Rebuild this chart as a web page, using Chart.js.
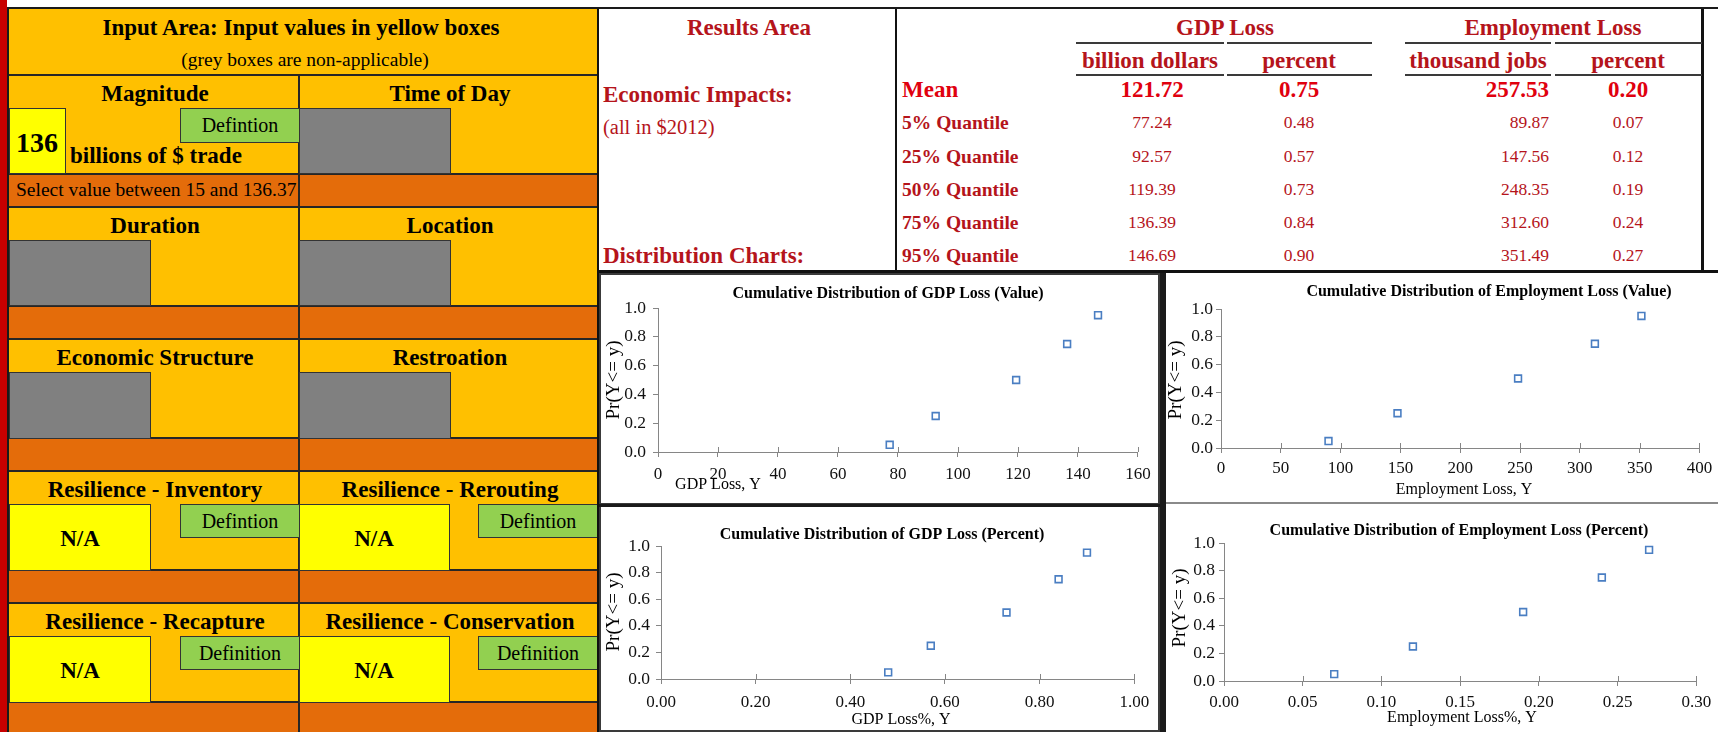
<!DOCTYPE html>
<html>
<head>
<meta charset="utf-8">
<script src="https://cdn.jsdelivr.net/npm/chart.js@4.4.1/dist/chart.umd.min.js"></script>
<style>
  html, body { margin: 0; padding: 0; background: #fff; }
  body { width: 1718px; height: 732px; overflow: hidden; position: relative;
         font-family: "Liberation Serif", "Times New Roman", serif; }
  #sheet { position: absolute; left: 0; top: 0; width: 1718px; height: 732px; }
  .a { position: absolute; box-sizing: border-box; }
  .t { position: absolute; white-space: nowrap; line-height: 1; }
  canvas { position: absolute; }
</style>
</head>
<body>
<div id="sheet"></div>
<canvas id="cdfGdpValue"></canvas>
<canvas id="cdfJobValue"></canvas>
<canvas id="cdfGdpPercent"></canvas>
<canvas id="cdfJobPercent"></canvas>
<script>
// ---- model output: quantiles of the loss distributions ----
const quantileLabels   = ['5% Quantile', '25% Quantile', '50% Quantile', '75% Quantile', '95% Quantile'];
const quantileProbs    = [0.05, 0.25, 0.50, 0.75, 0.95];
const gdpLossBillion   = [77.24, 92.57, 119.39, 136.39, 146.69];
const gdpLossPercent   = [0.48, 0.57, 0.73, 0.84, 0.90];
const jobLossThousand  = [89.87, 147.56, 248.35, 312.60, 351.49];
const jobLossPercent   = [0.07, 0.12, 0.19, 0.24, 0.27];
const meanValues       = [121.72, 0.75, 257.53, 0.20];

// ---- axis ticks ----
const probTicks        = [0, 0.2, 0.4, 0.6, 0.8, 1.0];
const gdpValueTicks    = [0, 20, 40, 60, 80, 100, 120, 140, 160];
const jobValueTicks    = [0, 50, 100, 150, 200, 250, 300, 350, 400];
const gdpPercentTicks  = [0, 0.2, 0.4, 0.6, 0.8, 1.0];
const jobPercentTicks  = [0, 0.05, 0.10, 0.15, 0.20, 0.25, 0.30];

// ---- input panel ----
const inputSections = [
  { top: 75,  left: 'Magnitude',              right: 'Time of Day' },
  { top: 207, left: 'Duration',               right: 'Location' },
  { top: 339, left: 'Economic Structure',     right: 'Restroation' },
  { top: 471, left: 'Resilience - Inventory', right: 'Resilience - Rerouting' },
  { top: 603, left: 'Resilience - Recapture', right: 'Resilience - Conservation' }
];

const ORANGE = '#FFC000', DARK_ORANGE = '#E46C0A', GREY = '#808080',
      YELLOW = '#FFFF00', GREEN = '#92D050', LINE = '#262626',
      DARK_RED = '#B5141B', RED = '#E0000E';

const sheet = document.getElementById('sheet');
function el(cls, css, text) {
  const d = document.createElement('div');
  d.className = cls;
  Object.assign(d.style, css);
  if (text != null) d.textContent = text;
  sheet.appendChild(d);
  return d;
}
function rect(x, y, w, h, bg, border) {
  return el('a', { left: x + 'px', top: y + 'px', width: w + 'px', height: h + 'px',
                   background: bg, border: border || 'none' });
}
function label(s, x, y, size, opt) {
  opt = opt || {};
  const tr = opt.align === 'l' ? 'translate(0,-50%)'
           : opt.align === 'r' ? 'translate(-100%,-50%)' : 'translate(-50%,-50%)';
  return el('t', { left: x + 'px', top: y + 'px', fontSize: size + 'px',
                   fontWeight: opt.bold ? 'bold' : 'normal', color: opt.color || '#000',
                   transform: tr }, s);
}
const BOX = '1px solid #333';

// frame and side strip
rect(0, 0, 7, 732, '#C80000');
rect(9, 9, 588, 723, ORANGE);

label('Input Area: Input values in yellow boxes', 301, 27, 23, { bold: true });
label('(grey boxes are non-applicable)', 305, 60, 19.5);
rect(9, 74, 588, 2, LINE);

inputSections.forEach(s => {
  rect(9, s.top + 99, 588, 33, DARK_ORANGE);
  rect(9, s.top + 98, 588, 2, LINE);
  rect(9, s.top + 131, 588, 2, LINE);
  label(s.left, 155, s.top + 18, 23, { bold: true });
  label(s.right, 450, s.top + 18, 23, { bold: true });
});
rect(298, 75, 2, 657, LINE);

// Magnitude
rect(9, 108, 57, 66, YELLOW, BOX);
label('136', 37, 143, 28, { bold: true });
label('billions of $ trade', 70, 155, 23, { bold: true, align: 'l' });
rect(180, 108, 120, 35, GREEN, BOX);
label('Defintion', 240, 125, 20);
rect(299, 108, 152, 66, GREY, BOX);
label('Select value between 15 and 136.37', 16, 190, 19.5, { align: 'l' });
// Duration / Location
rect(9, 240, 142, 66, GREY, BOX);
rect(299, 240, 152, 66, GREY, BOX);
// Economic Structure / Restoration
rect(9, 372, 142, 67, GREY, BOX);
rect(299, 372, 152, 67, GREY, BOX);
// Resilience rows
[[504, 'Defintion', 'Defintion'], [636, 'Definition', 'Definition']].forEach(([y, d1, d2]) => {
  rect(9, y, 142, 67, YELLOW, BOX);
  label('N/A', 80, y + 34, 23, { bold: true });
  rect(180, y, 120, 34, GREEN, BOX);
  label(d1, 240, y + 17, 20);
  rect(299, y, 151, 67, YELLOW, BOX);
  label('N/A', 374, y + 34, 23, { bold: true });
  rect(478, y, 120, 34, GREEN, BOX);
  label(d2, 538, y + 17, 20);
});

// ---- results table ----
rect(7, 7, 1711, 2, '#1a1a1a');
rect(7, 7, 2, 725, '#1a1a1a');
rect(597, 9, 2, 723, '#111');
rect(895, 9, 2, 263, '#111');
rect(1701, 9, 3, 263, '#111');
rect(597, 270, 1121, 3, '#111');
[[1076, 148], [1227, 145], [1405, 146], [1555, 147]].forEach(([x, w]) => {
  rect(x, 42, w, 2, '#3a3a3a');
  rect(x, 74, w, 2, '#3a3a3a');
});

label('Results Area', 749, 27, 23, { bold: true, color: DARK_RED });
label('GDP Loss', 1225, 27, 23, { bold: true, color: DARK_RED });
label('Employment Loss', 1553, 27, 23, { bold: true, color: DARK_RED });
label('billion dollars', 1150, 60, 23, { bold: true, color: DARK_RED });
label('percent', 1299, 60, 23, { bold: true, color: DARK_RED });
label('thousand jobs', 1478, 60, 23, { bold: true, color: DARK_RED });
label('percent', 1628, 60, 23, { bold: true, color: DARK_RED });
label('Economic Impacts:', 603, 94, 23, { bold: true, color: DARK_RED, align: 'l' });
label('(all in $2012)', 603, 127, 20.5, { color: DARK_RED, align: 'l' });
label('Distribution Charts:', 603, 255, 23, { bold: true, color: DARK_RED, align: 'l' });

// columns: GDP $ (centred), GDP % (centred), jobs (right aligned), jobs % (centred)
const colX = [[1152, 'c'], [1299, 'c'], [1549, 'r'], [1628, 'c']];
label('Mean', 902, 89, 23, { bold: true, color: RED, align: 'l' });
meanValues.forEach((v, j) => label(v.toFixed(2), colX[j][0], 89, 23, { bold: true, color: RED, align: colX[j][1] }));
const rowY = [123, 157, 190, 223, 256];
quantileLabels.forEach((q, i) => {
  label(q, 902, rowY[i], 19.5, { bold: true, color: DARK_RED, align: 'l' });
  [gdpLossBillion, gdpLossPercent, jobLossThousand, jobLossPercent].forEach((arr, j) =>
    label(arr[i].toFixed(2), colX[j][0], rowY[i], 17.5, { color: DARK_RED, align: colX[j][1] }));
});

// ---- chart frames ----
rect(599, 273, 561, 232, '#fff', '2px solid #3a3a3a');
rect(1160, 273, 6, 459, '#1a1a1a');
rect(1166, 273, 552, 231, '#fff');
rect(1166, 502, 552, 2, '#8a8a8a');
rect(599, 504, 561, 228, '#fff', '2px solid #3a3a3a');
rect(599, 504, 561, 3, '#1a1a1a');

// ---- cumulative distribution charts ----
const FONT = '"Liberation Serif", "Times New Roman", serif';
Chart.defaults.font.family = FONT;

const captionPlugin = {
  id: 'cdfCaptions',
  beforeDatasetsDraw(chart) {
    // tick marks on the x axis cross the axis line
    const xs = chart.scales.x, ctx = chart.ctx;
    ctx.save();
    ctx.strokeStyle = '#868686';
    ctx.lineWidth = 1;
    xs.ticks.forEach(t => {
      const px = Math.round(xs.getPixelForValue(t.value)) + 0.5;
      ctx.beginPath();
      ctx.moveTo(px, xs.top);
      ctx.lineTo(px, xs.top - 5);
      ctx.stroke();
    });
    ctx.restore();
  },
  afterDraw(chart, args, o) {
    const ctx = chart.ctx;
    ctx.save();
    ctx.fillStyle = '#000';
    ctx.textAlign = 'center';
    ctx.textBaseline = 'middle';
    ctx.font = 'bold 16px ' + FONT;
    ctx.fillText(o.title, o.t[0], o.t[1]);
    ctx.font = '16px ' + FONT;
    ctx.fillText(o.xTitle, o.x[0], o.x[1]);
    ctx.translate(o.y[0], o.y[1]);
    ctx.rotate(-Math.PI / 2);
    ctx.font = '19px ' + FONT;
    ctx.fillText(o.yTitle, 0, 0);
    ctx.restore();
  }
};

function cdfChart(id, c) {
  const canvas = document.getElementById(id);
  canvas.width = c.box.w; canvas.height = c.box.h;
  canvas.style.left = c.box.x + 'px'; canvas.style.top = c.box.y + 'px';
  const L = c.plot.l - c.box.x, R = c.plot.r - c.box.x,
        T = c.plot.t - c.box.y, B = c.plot.b - c.box.y;
  const rel = p => [p[0] - c.box.x, p[1] - c.box.y];
  return new Chart(canvas, {
    type: 'scatter',
    data: {
      datasets: [{
        data: c.xs.map((x, i) => ({ x: x, y: quantileProbs[i] })),
        pointStyle: 'rect',
        pointRadius: 4.8,
        pointHoverRadius: 4.8,
        pointBorderWidth: 1.6,
        borderColor: '#4A7EC2',
        backgroundColor: 'rgba(255,255,255,0)'
      }]
    },
    options: {
      responsive: false, maintainAspectRatio: false, animation: false,
      devicePixelRatio: 1, events: [],
      layout: { autoPadding: false, padding: { left: 0, top: T, right: c.box.w - R, bottom: 0 } },
      plugins: {
        legend: { display: false }, tooltip: { enabled: false }, title: { display: false },
        cdfCaptions: { title: c.title, xTitle: c.xTitle, yTitle: 'Pr(Y<= y)',
                       t: rel(c.cap.t), x: rel(c.cap.x), y: rel(c.cap.y) }
      },
      scales: {
        x: {
          type: 'linear',
          min: c.xTicks[0], max: c.xTicks[c.xTicks.length - 1],
          afterBuildTicks: s => { s.ticks = c.xTicks.map(v => ({ value: v })); },
          ticks: { callback: v => v.toFixed(c.dec), font: { size: 17 }, color: '#111',
                   padding: c.xpad, maxRotation: 0, autoSkip: false },
          grid: { drawOnChartArea: false, color: '#868686', tickLength: 5, lineWidth: 1 },
          border: { color: '#868686', width: 1 },
          afterFit: s => { s.height = c.box.h - B; }
        },
        y: {
          type: 'linear', min: 0, max: 1,
          afterBuildTicks: s => { s.ticks = probTicks.map(v => ({ value: v })); },
          ticks: { callback: v => v.toFixed(1), font: { size: 17.5 }, color: '#111',
                   padding: c.ypad, autoSkip: false },
          grid: { drawOnChartArea: false, color: '#868686', tickLength: 5, lineWidth: 1 },
          border: { color: '#868686', width: 1 },
          afterFit: s => { s.width = L; }
        }
      }
    },
    plugins: [captionPlugin]
  });
}

cdfChart('cdfGdpValue', {
  xs: gdpLossBillion, xTicks: gdpValueTicks, dec: 0,
  title: 'Cumulative Distribution of GDP Loss (Value)', xTitle: 'GDP Loss, Y',
  box: { x: 601, y: 275, w: 557, h: 228 },
  plot: { l: 658, r: 1141, t: 308, b: 452 },
  cap: { t: [888, 294], x: [718, 485], y: [614, 380] },
  xpad: 7.3, ypad: 7
});
cdfChart('cdfJobValue', {
  xs: jobLossThousand, xTicks: jobValueTicks, dec: 0,
  title: 'Cumulative Distribution of Employment Loss (Value)', xTitle: 'Employment Loss, Y',
  box: { x: 1166, y: 275, w: 552, h: 227 },
  plot: { l: 1221, r: 1706, t: 309, b: 448 },
  cap: { t: [1489, 292], x: [1464, 490], y: [1176, 380] },
  xpad: 5.8, ypad: 3
});
cdfChart('cdfGdpPercent', {
  xs: gdpLossPercent, xTicks: gdpPercentTicks, dec: 2,
  title: 'Cumulative Distribution of GDP Loss (Percent)', xTitle: 'GDP Loss%, Y',
  box: { x: 601, y: 507, w: 557, h: 223 },
  plot: { l: 661, r: 1137, t: 546, b: 679 },
  cap: { t: [882, 535], x: [901, 720], y: [614, 612] },
  xpad: 8.8, ypad: 6
});
cdfChart('cdfJobPercent', {
  xs: jobLossPercent, xTicks: jobPercentTicks, dec: 2,
  title: 'Cumulative Distribution of Employment Loss (Percent)', xTitle: 'Employment Loss%, Y',
  box: { x: 1166, y: 507, w: 552, h: 225 },
  plot: { l: 1224, r: 1704, t: 543, b: 681 },
  cap: { t: [1459, 531], x: [1462, 718], y: [1180, 608] },
  xpad: 6.8, ypad: 4
});
</script>
</body>
</html>
